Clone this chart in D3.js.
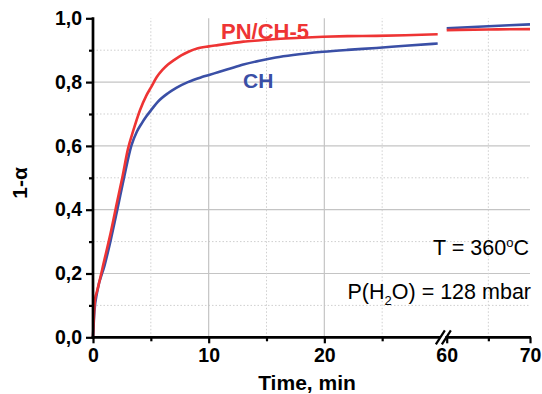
<!DOCTYPE html>
<html>
<head>
<meta charset="utf-8">
<script src="https://cdn.jsdelivr.net/npm/d3@7"></script>
<style>
  body { margin: 0; background: #fff; }
  svg { display: block; font-family: "Liberation Sans", Arial, sans-serif; }
</style>
</head>
<body>
<div class="chart"></div>
<script>
// PN/CH-5 (red), time in min
const redT = [0, 0.08, 0.2, 0.3, 1.0, 1.58, 2.0, 2.53, 3.02, 3.5, 4.06, 4.6, 5.04, 5.5, 6.0, 6.48, 7.0, 7.63, 8.3, 9.07, 10.0, 10.8, 12, 13.0, 14.5, 15.9, 18, 19.9, 22, 24.5, 27, 29.8];
const redY = [0, 0.07, 0.125, 0.138, 0.245, 0.336, 0.41, 0.5, 0.59, 0.65, 0.712, 0.757, 0.785, 0.815, 0.838, 0.855, 0.869, 0.884, 0.896, 0.906, 0.912, 0.916, 0.922, 0.927, 0.931, 0.935, 0.939, 0.942, 0.944, 0.945, 0.947, 0.95];
const redT2 = [60, 65, 70];
const redY2 = [0.963, 0.965, 0.966];

// CH (blue)
const blueT = [0, 0.12, 0.35, 1.0, 1.5, 2.1, 2.68, 3.31, 3.8, 4.2, 4.6, 5.04, 5.6, 6.48, 7.2, 8.2, 9.36, 10.1, 10.8, 11.8, 13, 14.4, 15.8, 17.3, 19.9, 22, 24.5, 27, 29.8];
const blueY = [0, 0.08, 0.14, 0.225, 0.3, 0.4, 0.5, 0.6, 0.645, 0.67, 0.692, 0.713, 0.738, 0.765, 0.782, 0.8, 0.815, 0.823, 0.831, 0.842, 0.855, 0.867, 0.877, 0.885, 0.895, 0.901, 0.907, 0.914, 0.921];
const blueT2 = [60, 65, 70];
const blueY2 = [0.969, 0.975, 0.981];

const yMajor = [0, 0.2, 0.4, 0.6, 0.8, 1.0];
const yMinor = [0.1, 0.3, 0.5, 0.7, 0.9];
const xMajorL = [0, 10, 20];
const xMinorL = [5, 15, 25];
const xMajorR = [60, 70];
const xMinorR = [65];

const W = 542, H = 394;
const RED = "#ee3434", BLUE = "#3a4fa6";

const svg = d3.select(".chart").append("svg").attr("width", W).attr("height", H);

const y = d3.scaleLinear().domain([0, 1]).range([337.3, 18.3]);
const xL = d3.scaleLinear().domain([0, 30]).range([93, 440]);
const xR = d3.scaleLinear().domain([60, 70]).range([446.7, 530]);
const x0 = xL(0), x1 = xR(70);

// grid
const grid = svg.append("g");
grid.selectAll(".hmaj").data(yMajor.slice(1, 5)).join("line")
  .attr("x1", x0).attr("x2", x1).attr("y1", d => y(d)).attr("y2", d => y(d))
  .attr("stroke", "#c4c4c4").attr("stroke-width", 1.2);
grid.selectAll(".hmin").data(yMinor).join("line")
  .attr("x1", x0).attr("x2", x1).attr("y1", d => y(d)).attr("y2", d => y(d))
  .attr("stroke", "#cfcfcf").attr("stroke-width", 1).attr("stroke-dasharray", "1.5,2");
grid.selectAll(".vmaj").data(xMajorL.slice(1)).join("line")
  .attr("x1", d => xL(d)).attr("x2", d => xL(d)).attr("y1", y(0)).attr("y2", y(1))
  .attr("stroke", "#c4c4c4").attr("stroke-width", 1.2);
grid.selectAll(".vmin").data(xMinorL.map(xL).concat(xMinorR.map(xR))).join("line")
  .attr("x1", d => d).attr("x2", d => d).attr("y1", y(0)).attr("y2", y(1))
  .attr("stroke", "#cfcfcf").attr("stroke-width", 1).attr("stroke-dasharray", "1.5,2");

// curves
const line = (xs) => d3.line().x(d => xs(d[0])).y(d => y(d[1])).curve(d3.curveMonotoneX);
const draw = (ts, ys, xs, color) => svg.append("path")
  .attr("d", line(xs)(d3.zip(ts, ys)))
  .attr("fill", "none").attr("stroke", color).attr("stroke-width", 2.6)
  .attr("stroke-linejoin", "round");
draw(blueT, blueY, xL, BLUE);
draw(redT, redY, xL, RED);
draw(blueT2, blueY2, xR, BLUE);
draw(redT2, redY2, xR, RED);

// axes
svg.append("g").attr("transform", `translate(${x0},0)`)
  .call(d3.axisLeft(y).tickValues(yMajor).tickSize(7).tickPadding(4)
    .tickFormat(d => d3.format(".1f")(d).replace(".", ",")));
svg.append("g").attr("transform", `translate(${x0},0)`)
  .call(d3.axisLeft(y).tickValues(yMinor).tickSize(4).tickFormat(""));

svg.append("g").attr("transform", `translate(0,${y(0)})`)
  .call(d3.axisBottom(xL).tickValues(xMajorL).tickSize(6).tickPadding(5));
svg.append("g").attr("transform", `translate(0,${y(0)})`)
  .call(d3.axisBottom(xL).tickValues(xMinorL).tickSize(4).tickFormat(""));
svg.append("g").attr("transform", `translate(0,${y(0)})`)
  .call(d3.axisBottom(xR).tickValues(xMajorR).tickSize(6).tickPadding(5));
svg.append("g").attr("transform", `translate(0,${y(0)})`)
  .call(d3.axisBottom(xR).tickValues(xMinorR).tickSize(4).tickFormat(""));

svg.selectAll(".domain").remove();
svg.selectAll(".tick line").attr("stroke", "#000").attr("stroke-width", 2.2);
svg.selectAll(".tick text").attr("font-size", 19.5).attr("font-weight", "bold")
  .attr("fill", "#000").attr("font-family", "Liberation Sans, Arial, sans-serif");

// axis lines
svg.append("line").attr("x1", x0).attr("x2", x0).attr("y1", y(1) - 1).attr("y2", y(0) + 1.3)
  .attr("stroke", "#000").attr("stroke-width", 2.7);
svg.append("line").attr("x1", x0 - 1.3).attr("x2", x1 + 1).attr("y1", y(0)).attr("y2", y(0))
  .attr("stroke", "#000").attr("stroke-width", 2.7);

// break mark
const bx = (xL(30) + xR(60)) / 2, by = y(0);
svg.append("rect").attr("x", bx - 3).attr("y", by - 3).attr("width", 5).attr("height", 6).attr("fill", "#fff");
[-3, 3].forEach(dx => svg.append("line")
  .attr("x1", bx + dx - 4.5).attr("y1", by + 7).attr("x2", bx + dx + 4.5).attr("y2", by - 7)
  .attr("stroke", "#000").attr("stroke-width", 2.2));

// axis titles
svg.append("text").attr("x", 307).attr("y", 390)
  .attr("text-anchor", "middle").attr("font-size", 21).attr("font-weight", "bold")
  .text("Time, min");
svg.append("text").attr("transform", "translate(27,183) rotate(-90)")
  .attr("text-anchor", "middle").attr("font-size", 21).attr("font-weight", "bold")
  .text("1-α");

// series labels
svg.append("text").attr("x", 221).attr("y", 38.5).attr("font-size", 22).attr("font-weight", "bold")
  .attr("fill", RED).text("PN/CH-5");
svg.append("text").attr("x", 243).attr("y", 88).attr("font-size", 21).attr("font-weight", "bold")
  .attr("fill", BLUE).text("CH");

// conditions
const t1 = svg.append("text").attr("x", 529).attr("y", 255).attr("text-anchor", "end").attr("font-size", 21.5);
t1.append("tspan").text("T = 360");
t1.append("tspan").attr("font-size", 13).attr("dy", -8).text("o");
t1.append("tspan").attr("dy", 8).text("C");
const t2 = svg.append("text").attr("x", 531).attr("y", 299).attr("text-anchor", "end").attr("font-size", 21.5);
t2.append("tspan").text("P(H");
t2.append("tspan").attr("font-size", 13).attr("dy", 6).text("2");
t2.append("tspan").attr("dy", -6).text("O) = 128 mbar");
</script>
</body>
</html>
